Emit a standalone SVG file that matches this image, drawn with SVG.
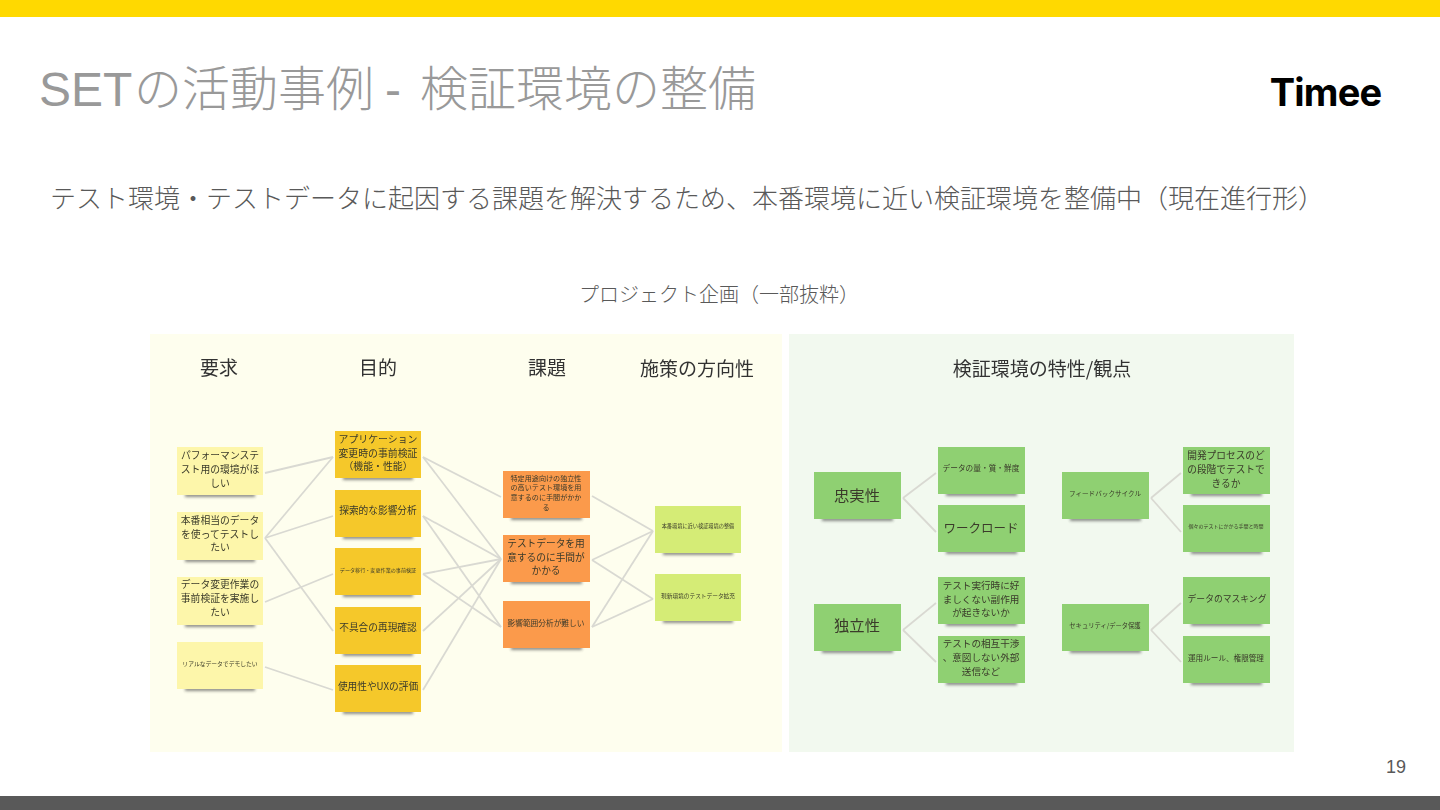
<svg xmlns="http://www.w3.org/2000/svg" width="1440" height="810" viewBox="0 0 1440 810">
<style>
text{font-family:"Noto Sans CJK JP","Noto Sans","Liberation Sans",sans-serif;text-anchor:middle}
.h{font-size:19px;fill:#333}
.n{fill:#3a3a2a;dominant-baseline:central}
.c line{stroke:#d9d9d2;stroke-width:1.8}
.sh{fill:#444;opacity:.6;filter:url(#s)}
.y{fill:#fdf6aa}.g{fill:#f5c82a}.o{fill:#fb9a4b}.l{fill:#d5ec76}.m{fill:#8fd072}
</style>
<defs><filter id="b" x="-20%" y="-20%" width="140%" height="140%"><feGaussianBlur stdDeviation="0.5"/></filter>
<filter id="s" x="-20%" y="-100%" width="140%" height="300%"><feGaussianBlur stdDeviation="1.6"/></filter>
</defs>
<rect width="1440" height="810" fill="#fff"/>
<rect width="1440" height="17" fill="#ffd900"/>
<rect y="796" width="1440" height="14" fill="#595959"/>
<g style="fill:#999;font-size:48px;font-weight:300">
<text x="39" y="106" style="text-anchor:start;font-family:'Liberation Sans',sans-serif;font-weight:400">SET</text>
<text x="134" y="106" style="text-anchor:start">の活動事例</text>
<text x="393" y="106" style="font-family:'Liberation Sans',sans-serif">-</text>
<text x="420" y="106" style="text-anchor:start">検証環境の整備</text>
</g>
<text x="1325.500" y="106" style="font-family:'Inter','Liberation Sans',sans-serif;font-size:38px;font-weight:700;fill:#000;letter-spacing:-.8px">Timee</text>
<text x="50" y="208" style="text-anchor:start;font-size:26px;fill:#595959;font-weight:300">テスト環境・テストデータに起因する課題を解決するため、本番環境に近い検証環境を整備中（現在進行形）</text>
<text x="719" y="302" style="font-size:20px;fill:#595959;font-weight:300">プロジェクト企画（一部抜粋）</text>
<text x="1396" y="773" style="font-family:'Liberation Sans',sans-serif;font-size:18px;fill:#595959">19</text>
<rect x="150" y="334" width="632" height="418" fill="#fefeee"/>
<rect x="789" y="334" width="505" height="418" fill="#f2f9ef"/>
<g filter="url(#b)">
<text class="h" x="219" y="375">要求</text><text class="h" x="378" y="375">目的</text><text class="h" x="547" y="375">課題</text><text class="h" x="697" y="376">施策の方向性</text><text class="h" x="1042" y="376">検証環境の特性/観点</text>
<g class="c" id="connectors">
<line x1="265" y1="473" x2="333" y2="457"/><line x1="265" y1="538" x2="333" y2="457"/><line x1="265" y1="538" x2="333" y2="516"/><line x1="265" y1="538" x2="333" y2="631"/><line x1="265" y1="602" x2="333" y2="574"/><line x1="265" y1="667" x2="333" y2="690"/>
<line x1="423" y1="457" x2="501" y2="497"/><line x1="423" y1="457" x2="501" y2="559"/><line x1="423" y1="516" x2="501" y2="559"/><line x1="423" y1="516" x2="501" y2="627"/><line x1="423" y1="574" x2="501" y2="559"/><line x1="423" y1="574" x2="501" y2="627"/><line x1="423" y1="631" x2="501" y2="559"/><line x1="423" y1="690" x2="501" y2="559"/>
<line x1="592" y1="496" x2="653" y2="531"/><line x1="592" y1="560" x2="653" y2="531"/><line x1="592" y1="560" x2="653" y2="599"/><line x1="592" y1="627" x2="653" y2="531"/><line x1="592" y1="627" x2="653" y2="599"/>
<line x1="903" y1="498" x2="936" y2="473"/><line x1="903" y1="498" x2="936" y2="532"/><line x1="903" y1="630" x2="936" y2="603"/><line x1="903" y1="630" x2="936" y2="662"/>
<line x1="1151" y1="498" x2="1181" y2="473"/><line x1="1151" y1="498" x2="1181" y2="532"/><line x1="1151" y1="630" x2="1181" y2="603"/><line x1="1151" y1="630" x2="1181" y2="662"/>
</g>
<g id="r1"><rect class="sh" x="185" y="493" width="70" height="4"/><rect class="y" x="177" y="447" width="86" height="48"/><text class="n" x="220" y="455" font-size="9.8">パフォーマンステ</text><text class="n" x="220" y="469" font-size="9.8">スト用の環境がほ</text><text class="n" x="220" y="483" font-size="9.8">しい</text></g>
<g id="r2"><rect class="sh" x="185" y="558" width="70" height="4"/><rect class="y" x="177" y="512" width="86" height="48"/><text class="n" x="220" y="520" font-size="9.8">本番相当のデータ</text><text class="n" x="220" y="534" font-size="9.8">を使ってテストし</text><text class="n" x="220" y="547" font-size="9.8">たい</text></g>
<g id="r3"><rect class="sh" x="185" y="623" width="70" height="4"/><rect class="y" x="177" y="577" width="86" height="48"/><text class="n" x="220" y="584" font-size="9.8">データ変更作業の</text><text class="n" x="220" y="598" font-size="9.8">事前検証を実施し</text><text class="n" x="220" y="612" font-size="9.8">たい</text></g>
<g id="r4"><rect class="sh" x="185" y="687" width="70" height="4"/><rect class="y" x="177" y="642" width="86" height="47"/><text class="n" x="220" y="663" font-size="5.800">リアルなデータでデモしたい</text></g>
<g id="p1"><rect class="sh" x="343" y="476" width="70" height="4"/><rect class="g" x="335" y="431" width="86" height="47"/><text class="n" x="378" y="439" font-size="9.9">アプリケーション</text><text class="n" x="378" y="453" font-size="9.9">変更時の事前検証</text><text class="n" x="378" y="466" font-size="9.9">（機能・性能）</text></g>
<g id="p2"><rect class="sh" x="343" y="535" width="70" height="4"/><rect class="g" x="335" y="490" width="86" height="47"/><text class="n" x="378" y="510" font-size="9.7">探索的な影響分析</text></g>
<g id="p3"><rect class="sh" x="343" y="593" width="70" height="4"/><rect class="g" x="335" y="548" width="86" height="47"/><text class="n" x="378" y="569" font-size="5.100">データ移行・変更作業の事前検証</text></g>
<g id="p4"><rect class="sh" x="343" y="652" width="70" height="4"/><rect class="g" x="335" y="607" width="86" height="47"/><text class="n" x="378" y="627" font-size="9.7">不具合の再現確認</text></g>
<g id="p5"><rect class="sh" x="343" y="710" width="70" height="4"/><rect class="g" x="335" y="665" width="86" height="47"/><text class="n" x="378" y="686" font-size="9.7">使用性やUXの評価</text></g>
<g id="i1"><rect class="sh" x="511" y="516" width="71" height="4"/><rect class="o" x="503" y="471" width="87" height="47"/><text class="n" x="546" y="478" font-size="7.1">特定用途向けの独立性</text><text class="n" x="546" y="487" font-size="7.1">の高いテスト環境を用</text><text class="n" x="546" y="497" font-size="7.1">意するのに手間がかか</text><text class="n" x="546" y="507" font-size="7.1">る</text></g>
<g id="i2"><rect class="sh" x="511" y="580" width="71" height="4"/><rect class="o" x="503" y="535" width="87" height="47"/><text class="n" x="546" y="543" font-size="9.7">テストデータを用</text><text class="n" x="546" y="557" font-size="9.7">意するのに手間が</text><text class="n" x="546" y="570" font-size="9.7">かかる</text></g>
<g id="i3"><rect class="sh" x="511" y="646" width="71" height="4"/><rect class="o" x="503" y="601" width="87" height="47"/><text class="n" x="546" y="622" font-size="7.7">影響範囲分析が難しい</text></g>
<g id="d1"><rect class="sh" x="663" y="551" width="70" height="4"/><rect class="l" x="655" y="506" width="86" height="47"/><text class="n" x="698" y="525" font-size="5.200">本番環境に近い検証環境の整備</text></g>
<g id="d2"><rect class="sh" x="663" y="619" width="70" height="4"/><rect class="l" x="655" y="574" width="86" height="47"/><text class="n" x="698" y="595" font-size="5.700">現新環境のテストデータ拡充</text></g>
<g id="a1"><rect class="sh" x="822" y="517" width="71" height="4"/><rect class="m" x="814" y="472" width="87" height="47"/><text class="n" x="857" y="494" font-size="15.300">忠実性</text></g>
<g id="a2"><rect class="sh" x="822" y="649" width="71" height="4"/><rect class="m" x="814" y="604" width="87" height="47"/><text class="n" x="857" y="624" font-size="15.300">独立性</text></g>
<g id="a3"><rect class="sh" x="946" y="492" width="71" height="4"/><rect class="m" x="938" y="447" width="87" height="47"/><text class="n" x="981" y="467" font-size="7.700">データの量・質・鮮度</text></g>
<g id="a4"><rect class="sh" x="946" y="550" width="71" height="4"/><rect class="m" x="938" y="505" width="87" height="47"/><text class="n" x="981" y="527" font-size="12.500">ワークロード</text></g>
<g id="a5"><rect class="sh" x="946" y="622" width="71" height="4"/><rect class="m" x="938" y="577" width="87" height="47"/><text class="n" x="981" y="585" font-size="9.600">テスト実行時に好</text><text class="n" x="981" y="599" font-size="9.600">ましくない副作用</text><text class="n" x="981" y="612" font-size="9.600">が起きないか</text></g>
<g id="a6"><rect class="sh" x="946" y="681" width="71" height="4"/><rect class="m" x="938" y="636" width="87" height="47"/><text class="n" x="981" y="643" font-size="9.600">テストの相互干渉</text><text class="n" x="981" y="657" font-size="9.600">、意図しない外部</text><text class="n" x="981" y="671" font-size="9.600">送信など</text></g>
<g id="b1"><rect class="sh" x="1070" y="517" width="71" height="4"/><rect class="m" x="1062" y="472" width="87" height="47"/><text class="n" x="1105" y="493" font-size="6.600">フィードバックサイクル</text></g>
<g id="b2"><rect class="sh" x="1070" y="649" width="71" height="4"/><rect class="m" x="1062" y="604" width="87" height="47"/><text class="n" x="1105" y="625" font-size="6.300">セキュリティ/データ保護</text></g>
<g id="b3"><rect class="sh" x="1191" y="492" width="71" height="4"/><rect class="m" x="1183" y="447" width="87" height="47"/><text class="n" x="1226" y="455" font-size="9.700">開発プロセスのど</text><text class="n" x="1226" y="469" font-size="9.700">の段階でテストで</text><text class="n" x="1226" y="483" font-size="9.700">きるか</text></g>
<g id="b4"><rect class="sh" x="1191" y="550" width="71" height="4"/><rect class="m" x="1183" y="505" width="87" height="47"/><text class="n" x="1226" y="525" font-size="5">個々のテストにかかる手間と時間</text></g>
<g id="b5"><rect class="sh" x="1191" y="622" width="71" height="4"/><rect class="m" x="1183" y="577" width="87" height="47"/><text class="n" x="1227" y="598" font-size="8.800">データのマスキング</text></g>
<g id="b6"><rect class="sh" x="1191" y="681" width="71" height="4"/><rect class="m" x="1183" y="636" width="87" height="47"/><text class="n" x="1226" y="657" font-size="7.600">運用ルール、権限管理</text></g>
</g>
</svg>
